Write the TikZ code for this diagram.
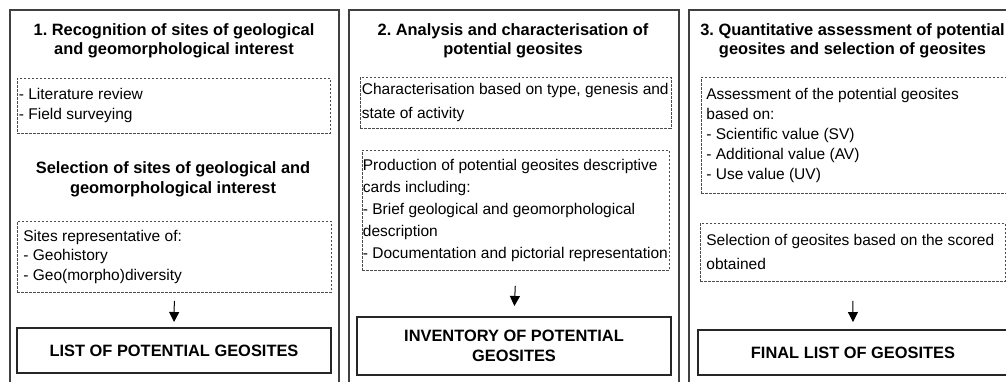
\documentclass[tikz,border=0pt]{standalone}
\usepackage{fontspec}
\setmainfont{Liberation Sans}
\usetikzlibrary{arrows.meta}
\frenchspacing

\begin{document}
\begin{tikzpicture}[x=1pt,y=-1pt,font=\fontsize{15.5}{20}\selectfont]
\tikzset{
	panel/.style = {draw=black!75, line width=1.5pt},
	heading/.style = {font=\fontsize{16.4}{#1}\selectfont\bfseries, align=flush center, inner sep=0pt, anchor=base},
	heading/.default = 19,
	notebox/.style = {draw=black!70, line width=0.8pt, dash pattern=on 2.5pt off 1.5pt, anchor=north west, align=flush left, inner ysep=0pt, font=\fontsize{15.5}{#1}\selectfont},
	notebox/.default = 20,
	resultbox/.style = {draw=black!85, line width=2pt, font=\fontsize{16.4}{20}\selectfont\bfseries, align=flush center},
	flow/.style = {-{Triangle[width=10pt,length=10pt]}, line width=1pt},
}
\useasboundingbox (0,0) rectangle (1006,381);
\draw[panel] (10,10) rectangle (339,395);
\draw[panel] (349,10) rectangle (679,395);
\draw[panel] (689,10) rectangle (1019,395);

\node[heading] (rec) at (174,54.5) {1. Recognition of sites of geological\\and geomorphological interest};
\node[notebox, inner xsep=1.5pt, text width=310pt, minimum height=55pt] (lit) at (17,78) {- Literature review\\- Field surveying};
\node[heading=20.5] (sel) at (173,193.5) {Selection of sites of geological and\\geomorphological interest};
\node[notebox=19.5, inner xsep=6pt, text width=302pt, minimum height=71pt] (sites) at (17,221) {Sites representative of:\\- Geohistory\\- Geo(morpho)diversity};
\node[resultbox, minimum width=314pt, minimum height=45pt] (list) at (174,350.5) {LIST OF POTENTIAL GEOSITES};
\draw[flow, shorten <=8pt, shorten >=5pt] (sites.south) -- (list.north);

\node[heading] (ana) at (513,54.5) {2. Analysis and characterisation of\\potential geosites};
\node[notebox=24, inner xsep=1.5pt, text width=307.5pt, minimum height=51pt] (char) at (360,77) {Characterisation based on type, genesis and\\state of activity};
\node[notebox=22, inner xsep=0.5pt, text width=306pt, minimum height=120pt] (prod) at (362,150) {Production of potential geosites descriptive\\cards including:\\- Brief geological and geomorphological\\description\\- Documentation and pictorial representation};
\node[resultbox, minimum width=314pt, minimum height=58pt] (inv) at (514,346) {INVENTORY OF POTENTIAL\\GEOSITES};
\draw[flow, shorten <=15pt, shorten >=10pt] (prod.south) -- (inv.north);

\node[heading] (quant) at (852.5,54.5) {3. Quantitative assessment of potential\\geosites and selection of geosites};
\node[notebox, inner xsep=5pt, text width=299pt, minimum height=116pt] (assess) at (701,77) {Assessment of the potential geosites\\based on:\\- Scientific value (SV)\\- Additional value (AV)\\- Use value (UV)};
\node[notebox=24, inner xsep=6pt, text width=293pt, minimum height=58pt] (score) at (700,223) {Selection of geosites based on the scored\\obtained};
\node[resultbox, minimum width=310pt, minimum height=45pt] (final) at (853,352.5) {FINAL LIST OF GEOSITES};
\draw[flow, shorten <=19pt, shorten >=7pt] (score.south) -- (final.north);
\end{tikzpicture}
\end{document}
